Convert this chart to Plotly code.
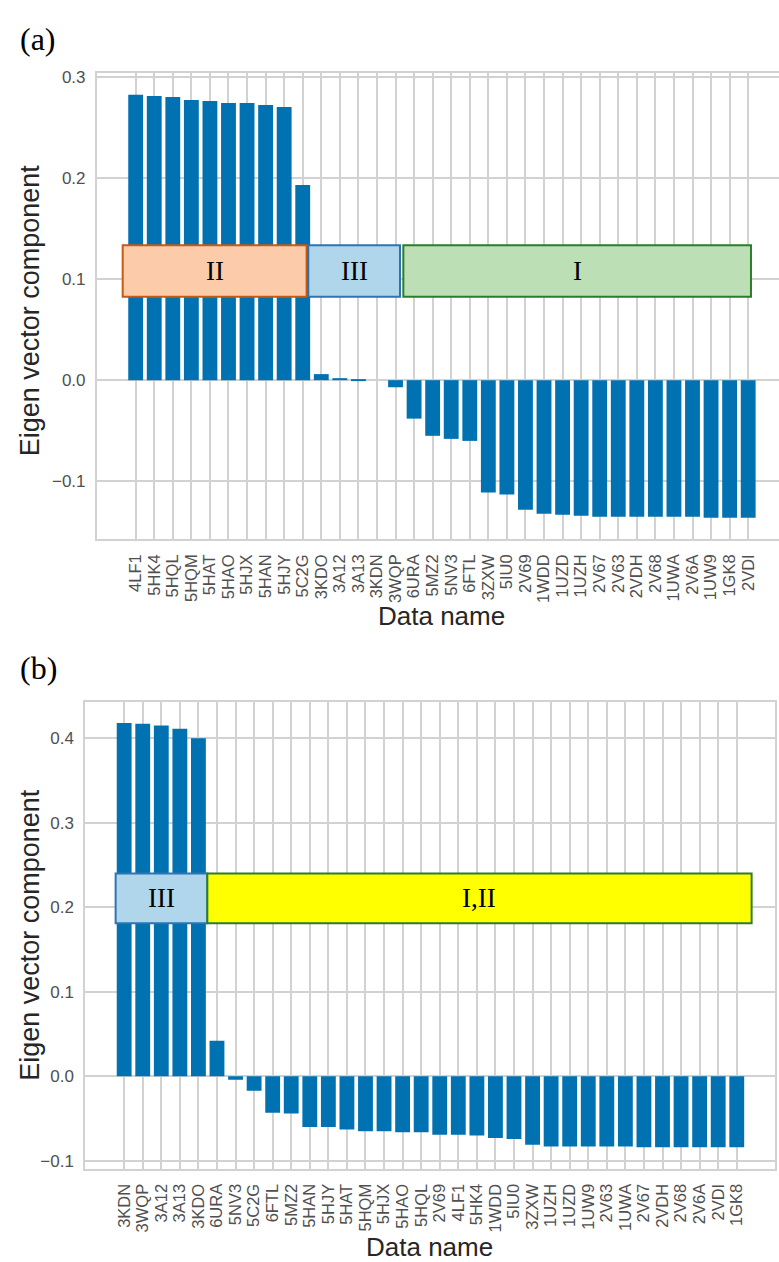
import plotly.graph_objects as go

# ---------------- data ----------------
names_a = ["4LF1", "5HK4", "5HQL", "5HQM", "5HAT", "5HAO", "5HJX", "5HAN", "5HJY", "5C2G",
           "3KDO", "3A12", "3A13", "3KDN", "3WQP", "6URA", "5MZ2", "5NV3", "6FTL", "3ZXW",
           "5IU0", "2V69", "1WDD", "1UZD", "1UZH", "2V67", "2V63", "2VDH", "2V68", "1UWA",
           "2V6A", "1UW9", "1GK8", "2VDI"]
values_a = [0.282, 0.281, 0.280, 0.277, 0.276, 0.274, 0.274, 0.272, 0.270, 0.193,
            0.006, 0.002, 0.001, 0.000, -0.007, -0.038, -0.055, -0.058, -0.060, -0.111,
            -0.113, -0.128, -0.132, -0.133, -0.134, -0.135, -0.135, -0.135, -0.135, -0.135,
            -0.135, -0.136, -0.136, -0.136]

names_b = ["3KDN", "3WQP", "3A12", "3A13", "3KDO", "6URA", "5NV3", "5C2G", "6FTL", "5MZ2",
           "5HAN", "5HJY", "5HAT", "5HQM", "5HJX", "5HAO", "5HQL", "2V69", "4LF1", "5HK4",
           "1WDD", "5IU0", "3ZXW", "1UZH", "1UZD", "1UW9", "2V63", "1UWA", "2V67", "2VDH",
           "2V68", "2V6A", "2VDI", "1GK8"]
values_b = [0.418, 0.417, 0.415, 0.411, 0.400, 0.042, -0.004, -0.017, -0.043, -0.044,
            -0.060, -0.060, -0.063, -0.065, -0.065, -0.066, -0.066, -0.069, -0.069, -0.070,
            -0.073, -0.074, -0.081, -0.083, -0.083, -0.083, -0.083, -0.083, -0.084, -0.084,
            -0.084, -0.084, -0.084, -0.084]

group_labels_a = ["II", "III", "I"]
group_labels_b = ["III", "I,II"]

# ---------------- style ----------------
W, H = 779, 1262
BAR = "#0072B2"
GRID = "#d2d2d2"
TICKC = "#505050"
TITLEC = "#262626"
SERIF = "Liberation Serif, DejaVu Serif, serif"
SANS = "Liberation Sans, Arial, sans-serif"

fig = go.Figure()
fig.add_trace(go.Bar(x=names_a, y=values_a, marker=dict(color=BAR, line=dict(width=0)),
                     width=0.8, xaxis="x", yaxis="y", showlegend=False))
fig.add_trace(go.Bar(x=names_b, y=values_b, marker=dict(color=BAR, line=dict(width=0)),
                     width=0.8, xaxis="x2", yaxis="y2", showlegend=False))

def px_x(p):
    return p / W

def px_y(p):
    return 1 - p / H

axis_common = dict(showgrid=True, gridcolor=GRID, gridwidth=1.5, zeroline=False,
                   showline=True, linecolor=GRID, linewidth=1.5)

xtick = dict(ticks="outside", ticklen=7, tickcolor="rgba(0,0,0,0)", tickangle=-90,
             tickmode="array",
             tickfont=dict(family=SANS, size=16.5, color=TICKC))
ytick = dict(ticks="outside", ticklen=6, tickcolor="rgba(0,0,0,0)",
             dtick=0.1, tick0=0, tickformat=".1f",
             tickfont=dict(family=SANS, size=17, color=TICKC))

fig.update_layout(
    width=W, height=H, margin=dict(l=0, r=0, t=0, b=0),
    paper_bgcolor="white", plot_bgcolor="white", bargap=0.2,
    xaxis=dict(domain=[px_x(96.7), 1.0], anchor="y", type="category",
               tickvals=names_a, ticktext=names_a,
               range=[-2.1, 34.66], mirror=True, **xtick, **axis_common),
    yaxis=dict(domain=[px_y(537), px_y(68.5)], anchor="x", range=[-0.157, 0.3035],
               mirror=False, **ytick, **axis_common),
    xaxis2=dict(domain=[px_x(85), px_x(775)], anchor="y2", type="category",
                tickvals=names_b, ticktext=names_b,
                range=[-2.11, 35.06], mirror=True, **xtick, **axis_common),
    yaxis2=dict(domain=[px_y(1170), px_y(700.7)], anchor="x2", range=[-0.109, 0.443],
                mirror=True, **ytick, **axis_common),
)

# group boxes
boxes_a = [(-0.70, 9.21, "#FCCBAA", "#C55A11"),
           (9.30, 14.24, "#B0D6EC", "#2E74B5"),
           (14.42, 33.15, "#BCDFB6", "#2A7D2A")]
for (x0, x1, fc, lc), lab in zip(boxes_a, group_labels_a):
    fig.add_shape(type="rect", xref="x", yref="y", x0=x0, x1=x1, y0=0.0825, y1=0.1333,
                  fillcolor=fc, line=dict(color=lc, width=2), layer="above")
    fig.add_annotation(xref="x", yref="y", x=(x0 + x1) / 2, y=(0.0825 + 0.1333) / 2,
                       text=lab, showarrow=False,
                       font=dict(family=SERIF, size=27, color="black"))

boxes_b = [(-0.46, 4.48, "#B0D6EC", "#2E74B5"),
           (4.48, 33.8, "#FFFF00", "#2A7D2A")]
for (x0, x1, fc, lc), lab in zip(boxes_b, group_labels_b):
    fig.add_shape(type="rect", xref="x2", yref="y2", x0=x0, x1=x1, y0=0.181, y1=0.240,
                  fillcolor=fc, line=dict(color=lc, width=2), layer="above")
    fig.add_annotation(xref="x2", yref="y2", x=(x0 + x1) / 2, y=(0.181 + 0.240) / 2,
                       text=lab, showarrow=False,
                       font=dict(family=SERIF, size=27, color="black"))

# panel labels and axis titles
for lab, y in [("(a)", 34), ("(b)", 667)]:
    fig.add_annotation(xref="paper", yref="paper", x=px_x(18), y=px_y(y), xanchor="left",
                       yanchor="middle", text=lab, showarrow=False,
                       font=dict(family=SERIF, size=32, color="black"))

for y in [307, 935]:
    fig.add_annotation(xref="paper", yref="paper", x=px_x(30), y=px_y(y), textangle=-90,
                       text="Eigen vector component", showarrow=False,
                       xanchor="center", yanchor="middle",
                       font=dict(family=SANS, size=27, color=TITLEC))

for x, y in [(441, 614), (430, 1249)]:
    fig.add_annotation(xref="paper", yref="paper", x=px_x(x), y=px_y(y),
                       text="Data name", showarrow=False, xanchor="center", yanchor="middle",
                       font=dict(family=SANS, size=26, color=TITLEC))

fig.write_html("out.html")
